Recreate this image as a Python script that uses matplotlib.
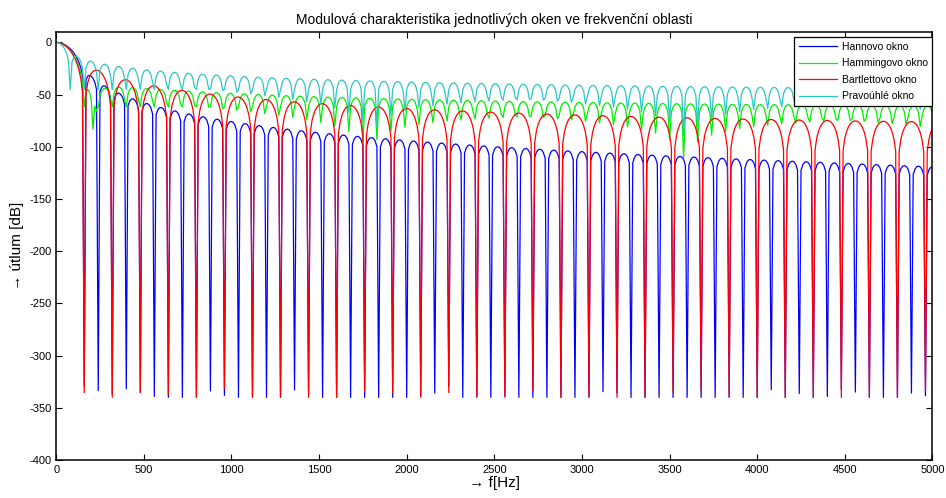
import numpy as np
import matplotlib.pyplot as plt

plt.rcParams['font.family'] = ['Liberation Sans', 'DejaVu Sans']
plt.rcParams['axes.unicode_minus'] = False

# Data: sampling rate, window length, FFT length (10 Hz bins), shown band
fs = 14400
N = 181
nfft = 1440
f_max = 5000

labels = ["Hannovo okno", "Hammingovo okno", "Bartlettovo okno", "Pravoúhlé okno"]
windows = [np.hanning(N), np.hamming(N), np.bartlett(N), np.ones(N)]
colors = ["#0000ff", "#00ee00", "#ff0000", "#2cc6c6"]

f = np.fft.rfftfreq(nfft, 1 / fs)
keep = f <= f_max

fig = plt.figure(figsize=(9.46, 4.98), dpi=100)
ax = fig.add_axes([0.0594, 0.0763, 0.9263, 0.8594])

for w, lab, c in zip(windows, labels, colors):
    H = np.abs(np.fft.rfft(w, nfft))
    H = np.maximum(H / H.max(), 1e-17)
    ax.plot(f[keep], 20 * np.log10(H[keep]), color=c, lw=0.9, label=lab)

ax.set_xlim(0, 5000)
ax.set_ylim(-400, 10)
ax.set_xticks(np.arange(0, 5001, 500))
ax.set_yticks(np.arange(-400, 1, 50))
ax.tick_params(direction='in', top=True, right=True, length=4, labelsize=8)
for s in ax.spines.values():
    s.set_linewidth(1.1)

ax.set_title("Modulová charakteristika jednotlivých oken ve frekvenční oblasti", fontsize=10)
ax.set_xlabel("→ f[Hz]", fontsize=11, labelpad=1)
ax.set_ylabel("→ útlum [dB]", fontsize=11, labelpad=4)

leg = ax.legend(loc='upper right', bbox_to_anchor=(1.0, 0.988), fontsize=7.5,
                fancybox=False, edgecolor='black', framealpha=1, handlelength=3.6,
                borderaxespad=0, labelspacing=0.62, handletextpad=0.5, borderpad=0.45)
leg.get_frame().set_linewidth(0.9)

plt.savefig("out.png", dpi=100)
